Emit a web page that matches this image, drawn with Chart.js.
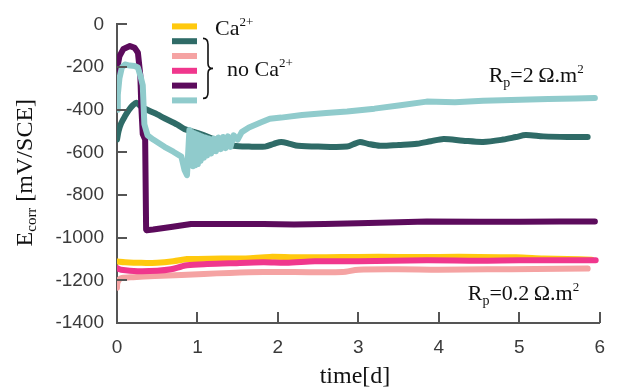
<!DOCTYPE html>
<html>
<head>
<meta charset="utf-8">
<script src="https://cdn.jsdelivr.net/npm/chart.js@4/dist/chart.umd.min.js"></script>
<style>
  html, body { margin: 0; padding: 0; background: #fff; }
  #c { display: block; }
</style>
</head>
<body>
<canvas id="c" width="618" height="390"></canvas>
<script>
// ---- Data ----
const xTicks = [0, 1, 2, 3, 4, 5, 6];
const yTicks = [-1400, -1200, -1000, -800, -600, -400, -200, 0];

const seriesNames = ["Ca2+", "no Ca2+ (a)", "no Ca2+ (b)", "no Ca2+ (c)", "no Ca2+ (d)", "no Ca2+ (e)"];

// Ca2+ (yellow)
const yellowT = [0, 0.1, 0.3, 0.5, 0.7, 0.87, 1.0, 1.3, 1.6, 1.9, 2.2, 2.6, 3.0, 3.5, 4.0, 4.5, 4.96, 5.3, 5.6, 5.9];
const yellowV = [-1111, -1115, -1118, -1117, -1110, -1100, -1100, -1098, -1097, -1090, -1092, -1092, -1090, -1090, -1090, -1090, -1092, -1097, -1100, -1103];

// no Ca2+ dark teal (Rp = 2)
const darkTealT = [0, 0.02, 0.05, 0.1, 0.15, 0.2, 0.24, 0.3, 0.4, 0.5, 0.59, 0.75, 0.84, 1.04, 1.18, 1.3, 1.45, 1.64, 1.84, 1.95, 2.04, 2.15, 2.25, 2.5, 2.86, 2.95, 3.02, 3.12, 3.27, 3.5, 3.73, 3.9, 4.06, 4.3, 4.55, 4.8, 4.96, 5.08, 5.3, 5.6, 5.85];
const darkTealV = [-540, -500, -465, -430, -400, -378, -367, -385, -405, -422, -440, -470, -491, -514, -535, -552, -569, -573, -573, -560, -551, -560, -569, -573, -573, -560, -551, -560, -569, -565, -560, -548, -537, -545, -551, -540, -528, -519, -525, -528, -528];

// no Ca2+ light pink (Rp = 0.2)
const pinkT = [0, 0.005, 0.03, 0.06, 0.2, 0.47, 0.8, 1.08, 1.4, 1.82, 2.2, 2.8, 3.0, 3.5, 4.0, 4.6, 5.2, 5.85];
const pinkV = [-1235, -1212, -1195, -1189, -1185, -1180, -1175, -1170, -1165, -1161, -1161, -1161, -1150, -1148, -1150, -1148, -1147, -1145];

// no Ca2+ magenta (Rp = 0.2)
const magentaT = [0, 0.05, 0.26, 0.5, 0.67, 0.8, 0.87, 1.08, 1.4, 1.82, 2.1, 2.46, 3.0, 3.85, 4.5, 5.0, 5.5, 5.95];
const magentaV = [-1143, -1150, -1157, -1155, -1148, -1135, -1129, -1124, -1120, -1115, -1118, -1111, -1110, -1106, -1108, -1106, -1106, -1106];

// no Ca2+ purple
const purpleT = [0, 0.005, 0.03, 0.08, 0.16, 0.22, 0.26, 0.29, 0.303, 0.32, 0.35, 0.362, 0.37, 0.45, 0.67, 0.92, 1.3, 1.82, 2.2, 2.58, 3.0, 3.5, 3.85, 4.5, 5.0, 5.5, 5.94];
const purpleV = [-253, -200, -150, -115, -101, -110, -133, -239, -392, -514, -540, -962, -965, -962, -950, -936, -936, -936, -938, -936, -932, -928, -924, -925, -925, -924, -924];

// no Ca2+ light teal (Rp = 2), noisy band after t = 0.9
const lightTealT = [0, 0.01, 0.03, 0.06, 0.1, 0.16, 0.22, 0.26, 0.29, 0.32, 0.34, 0.38, 0.45, 0.59, 0.7, 0.8, 0.84, 0.87,
  0.9, 0.915, 0.93, 0.945, 0.96, 0.975, 0.99, 1.005, 1.02, 1.04, 1.06, 1.08, 1.1, 1.12, 1.14, 1.17, 1.2, 1.23, 1.26, 1.29, 1.32, 1.35, 1.38, 1.41, 1.45, 1.5, 1.55,
  1.64, 1.8, 1.9, 2.04, 2.3, 2.6, 2.86, 3.2, 3.5, 3.85, 4.2, 4.55, 4.9, 5.36, 5.7, 5.94];
const lightTealV = [-400, -330, -253, -202, -188, -193, -195, -202, -240, -285, -468, -520, -540, -574, -597, -620, -684, -707,
  -495, -660, -505, -665, -510, -660, -515, -655, -520, -640, -525, -625, -530, -615, -535, -605, -535, -595, -530, -585, -528, -580, -525, -574, -520, -540, -505,
  -483, -458, -442, -437, -425, -415, -408, -395, -380, -362, -365, -358, -355, -350, -348, -345];

const colors = ["#FFC90E", "#2F6B67", "#F5A3A3", "#F0378D", "#5C0B5C", "#90CBCC"];

// ---- Build datasets ----
function pts(t, v) { return t.map((x, i) => ({ x: x, y: v[i] })); }
const allT = [yellowT, darkTealT, pinkT, magentaT, purpleT, lightTealT];
const allV = [yellowV, darkTealV, pinkV, magentaV, purpleV, lightTealV];
const drawOrder = [5, 4, 6, 2, 3, 1];
const tensions = [0.3, 0.3, 0.3, 0.3, 0, 0];

const datasets = seriesNames.map((name, i) => ({
  label: name,
  data: pts(allT[i], allV[i]),
  borderColor: colors[i],
  backgroundColor: colors[i],
  borderWidth: 6,
  borderCapStyle: 'round',
  borderJoinStyle: 'round',
  pointRadius: 0,
  tension: tensions[i],
  order: drawOrder[i],
  fill: false
}));

const SERIF = '"Liberation Serif", "Times New Roman", serif';
const SANS = '"Liberation Sans", Arial, sans-serif';
const AXIS_COLOR = '#555555';

function drawParts(ctx, x, y, parts) {
  let cx = x;
  for (const [txt, size, dy] of parts) {
    ctx.font = size + 'px ' + SERIF;
    ctx.fillText(txt, cx, y + dy);
    cx += ctx.measureText(txt).width;
  }
}
function partsWidth(ctx, parts) {
  let w = 0;
  for (const [txt, size] of parts) {
    ctx.font = size + 'px ' + SERIF;
    w += ctx.measureText(txt).width;
  }
  return w;
}

const decorPlugin = {
  id: 'decor',
  afterDatasetsDraw(chart) {
    const ctx = chart.ctx;
    const xs = chart.scales.x, ys = chart.scales.y;
    const area = chart.chartArea;
    ctx.save();
    // inward tick marks
    ctx.strokeStyle = AXIS_COLOR;
    ctx.lineWidth = 2;
    ctx.beginPath();
    for (const v of yTicks) {
      const py = Math.round(ys.getPixelForValue(v));
      ctx.moveTo(area.left, py);
      ctx.lineTo(area.left + 10, py);
    }
    for (const v of xTicks) {
      const px = Math.round(xs.getPixelForValue(v));
      ctx.moveTo(px, area.bottom);
      ctx.lineTo(px, area.bottom - 11);
    }
    ctx.stroke();

    // legend
    const lx0 = area.left + 55, lx1 = area.left + 80;
    ctx.lineCap = 'butt';
    ctx.lineWidth = 6;
    for (let i = 0; i < colors.length; i++) {
      const ly = area.top + 2 + i * 14.8;
      ctx.strokeStyle = colors[i];
      ctx.beginPath();
      ctx.moveTo(lx0, ly);
      ctx.lineTo(lx1, ly);
      ctx.stroke();
    }
    ctx.fillStyle = '#111';
    ctx.textBaseline = 'alphabetic';
    ctx.textAlign = 'left';
    drawParts(ctx, area.left + 98, area.top + 11, [["Ca", 22, 0], ["2+", 13, -9]]);
    drawParts(ctx, area.left + 110, area.top + 52, [["no Ca", 22, 0], ["2+", 13, -9]]);

    // brace
    const bx = area.left + 86, by0 = area.top + 14, by1 = area.top + 74;
    const bm = (by0 + by1) / 2;
    ctx.strokeStyle = '#111';
    ctx.lineWidth = 1.6;
    ctx.beginPath();
    ctx.moveTo(bx, by0);
    ctx.quadraticCurveTo(bx + 5, by0, bx + 5, by0 + 6);
    ctx.lineTo(bx + 5, bm - 5);
    ctx.quadraticCurveTo(bx + 5, bm, bx + 10, bm);
    ctx.quadraticCurveTo(bx + 5, bm, bx + 5, bm + 5);
    ctx.lineTo(bx + 5, by1 - 6);
    ctx.quadraticCurveTo(bx + 5, by1, bx, by1);
    ctx.stroke();

    // Rp annotations anchored on data coordinates
    ctx.fillStyle = '#111';
    drawParts(ctx, xs.getPixelForValue(4.62), ys.getPixelForValue(-272),
      [["R", 22, 0], ["p", 14, 5], ["=2\u2009\u03A9.m", 22, 0], ["2", 13, -9]]);
    drawParts(ctx, xs.getPixelForValue(4.36), ys.getPixelForValue(-1292),
      [["R", 22, 0], ["p", 14, 5], ["=0.2\u2009\u03A9.m", 22, 0], ["2", 13, -9]]);

    // y axis title (rotated)
    ctx.save();
    ctx.translate(26, (area.top + area.bottom) / 2 - 1);
    ctx.rotate(-Math.PI / 2);
    ctx.textBaseline = 'middle';
    const yParts = [["E", 24, 0], ["corr", 15, 6], [" [mV/SCE]", 24, 0]];
    const w = partsWidth(ctx, yParts);
    drawParts(ctx, -w / 2, 0, yParts);
    ctx.restore();

    // x axis title
    ctx.textBaseline = 'alphabetic';
    ctx.font = '24px ' + SERIF;
    const xt = "time[d]";
    const xw = ctx.measureText(xt).width;
    ctx.fillText(xt, 355 - xw / 2, 383);
    ctx.restore();
  }
};

new Chart(document.getElementById('c'), {
  type: 'line',
  data: { datasets: datasets },
  options: {
    responsive: false,
    animation: false,
    devicePixelRatio: 1,
    layout: { padding: { left: 0, right: 13, top: 18, bottom: 0 } },
    plugins: { legend: { display: false }, tooltip: { enabled: false } },
    scales: {
      x: {
        type: 'linear',
        min: 0, max: 6,
        afterFit(scale) { scale.height = 67; },
        afterBuildTicks(scale) { scale.ticks = xTicks.map(v => ({ value: v })); },
        grid: { display: false, drawTicks: false },
        border: { display: true, color: AXIS_COLOR, width: 2 },
        ticks: { color: '#3a3a3a', font: { family: SANS, size: 19 }, padding: 13, callback: v => String(v) }
      },
      y: {
        type: 'linear',
        min: -1400, max: 0,
        afterFit(scale) { scale.width = 117; },
        afterBuildTicks(scale) { scale.ticks = yTicks.map(v => ({ value: v })); },
        grid: { display: false, drawTicks: false },
        border: { display: true, color: AXIS_COLOR, width: 2 },
        ticks: { color: '#3a3a3a', font: { family: SANS, size: 19 }, padding: 13, callback: v => String(v) }
      }
    }
  },
  plugins: [decorPlugin]
});
</script>
</body>
</html>
